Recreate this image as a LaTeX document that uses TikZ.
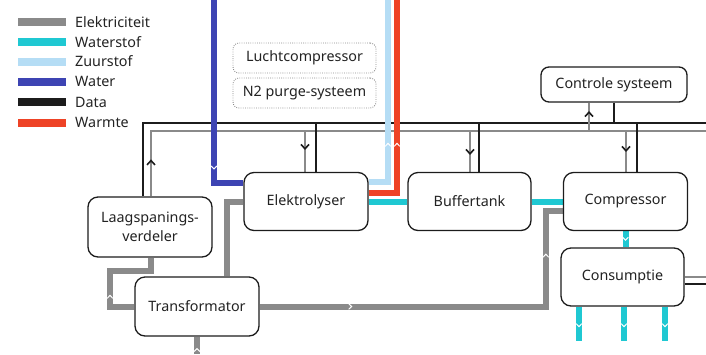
\documentclass[tikz,border=0pt]{standalone}
\usepackage{fontspec}
\setmainfont{Noto Sans}
\usetikzlibrary{arrows.meta,decorations.markings,calc,backgrounds}

\definecolor{elec}{HTML}{8A8A8A}
\definecolor{hydro}{HTML}{1FC8D2}
\definecolor{oxy}{HTML}{B5DDF5}
\definecolor{wat}{HTML}{3D44B3}
\definecolor{datac}{HTML}{1C1C1C}
\definecolor{heat}{HTML}{EE4326}
\definecolor{txt}{HTML}{222222}

\newcommand\boxfont{\fontsize{14.3}{18.5}\selectfont}

\tikzset{
  box/.style={draw=datac, line width=1.3pt, rounded corners=10pt, fill=white,
    inner sep=0pt, minimum width=124pt, minimum height=58pt, text=txt,
    font=\boxfont, align=center},
  dotbox/.style={draw=elec, line width=0.9pt, dash pattern=on 0.8pt off 1.4pt,
    rounded corners=6pt, fill=white, inner sep=0pt, minimum width=143pt,
    minimum height=30pt, text=txt, font=\boxfont},
  legtext/.style={anchor=west, inner sep=0pt, text=txt, font=\boxfont},
  pipe/.style={line width=6pt},
  elecpipe/.style={pipe, draw=elec},
  hydropipe/.style={pipe, draw=hydro},
  oxypipe/.style={pipe, draw=oxy},
  watpipe/.style={pipe, draw=wat},
  heatpipe/.style={pipe, draw=heat},
  dataline/.style={line width=1.6pt, draw=datac},
  lvline/.style={line width=1.6pt, draw=elec},
  % white flow chevron inside a thick pipe
  chev at/.style={postaction={decorate, decoration={markings,
    mark=at position #1 with {\draw[white, line width=1pt]
      (-2pt,2.8pt) -- (1pt,0pt) -- (-2pt,-2.8pt);}}}},
  % black direction mark on a thin line
  arr at/.style={postaction={decorate, decoration={markings,
    mark=at position #1 with {\draw[datac, line width=1.6pt, line join=miter]
      (-3.6pt,4pt) -- (0.8pt,0pt) -- (-3.6pt,-4pt);}}}},
}

\begin{document}
\begin{tikzpicture}[x=1pt, y=-1pt]
\useasboundingbox (0,0) rectangle (706,354);

% legend
\foreach \c/\t/\y in {elec/Elektriciteit/22, hydro/Waterstof/42, oxy/Zuurstof/61.5,
                      wat/Water/81.5, datac/Data/102, heat/Warmte/122.5} {
  \draw[line width=8pt, draw=\c] (18,\y) -- (66,\y);
  \node[legtext] (leg\c) at (75,\y) {\t};
}

% components
\node[dotbox] (lucht) at (304.5,58) {Luchtcompressor};
\node[dotbox] (purge) at (304.5,93) {N2 purge-systeem};
\node[box, minimum width=146pt, minimum height=35pt, rounded corners=8pt] (ctrl) at (614,84.5) {Controle systeem};
\node[box] (elek)  at (306,201.5)   {Elektrolyser};
\node[box, minimum width=123pt] (buff) at (469.5,201.5) {Buffertank};
\node[box] (comp)  at (625.5,201.5) {Compressor};
\node[box, minimum width=123pt] (cons) at (622.5,277) {Consumptie};
\node[box, minimum height=60pt] (laag) at (150,227) {Laagspanings-\\verdeler};
\node[box, minimum height=59pt] (trafo) at (197,306.5) {Transformator};

\begin{scope}[on background layer]
  % data and low-voltage buses
  \coordinate (dataend) at (706,123);
  \coordinate (lvend) at (706,131);
  \draw[dataline] ($(laag.north)+(-7,0)$) |- (dataend);
  \draw[lvline, arr at=35pt] ($(laag.north)+(1,0)$) |- (lvend);

  \draw[lvline, arr at=17pt] ($(elek.north |- lvend)+(-1,0)$) -- ($(elek.north)+(-1,0)$);
  \draw[dataline] ($(elek.north |- dataend)+(10,0)$) -- ($(elek.north)+(10,0)$);

  \draw[lvline, arr at=22pt] ($(buff.north |- lvend)+(0.5,0)$) -- ($(buff.north)+(0.5,0)$);
  \draw[dataline] ($(buff.north |- dataend)+(9.5,0)$) -- ($(buff.north)+(9.5,0)$);

  \draw[lvline, arr at=18pt] ($(ctrl.south |- lvend)+(-25,0)$) -- ($(ctrl.south)+(-25,0)$);
  \draw[dataline] (ctrl.south) -- (ctrl.south |- dataend);

  \draw[lvline, arr at=19pt] ($(comp.north |- lvend)+(0.5,0)$) -- ($(comp.north)+(0.5,0)$);
  \draw[dataline] ($(comp.north |- dataend)+(11.5,0)$) -- ($(comp.north)+(11.5,0)$);

  \coordinate (cdat) at ($(cons.east)+(0,7)$);
  \draw[lvline] (cons.east) -- (cons.east -| lvend);
  \draw[dataline] (cdat) -- (cdat -| dataend);

  % water, oxygen and heat
  \coordinate (wtop) at (214,0);
  \coordinate (otop) at (388,0);
  \coordinate (htop) at (397,0);
  \draw[watpipe, chev at=168pt] (wtop) |- ($(elek.west)+(0,-18.5)$);
  \draw[oxypipe, chev at=57pt] ($(elek.east)+(0,-19.5)$) -| (otop);
  \draw[heatpipe, chev at=77pt] ($(elek.east)+(0,-8.5)$) -| (htop);

  % hydrogen
  \draw[hydropipe] (elek.east) -- (buff.west);
  \draw[hydropipe] (buff.east) -- (comp.west);
  \draw[hydropipe, chev at=0.5] (comp.south) -- (comp.south |- cons.north);
  \foreach \dx [count=\k] in {-43.5,1.5,42.5} {
    \coordinate (out\k) at ($(cons.south)+(\dx,34)$);
    \draw[hydropipe, chev at=19pt] ($(cons.south)+(\dx,0)$) -- (out\k);
  }

  % electricity
  \coordinate (ebot) at (197,354);
  \draw[elecpipe, chev at=4.5pt] (ebot) -- (trafo.south);
  \draw[elecpipe] ($(trafo.north)+(30,0)$) |- (elek.west);
  \draw[elecpipe, chev at=34.5pt] (trafo.west) -| (110,271) -| ($(laag.south)+(1,0)$);
  \draw[elecpipe, chev at=91pt, chev at=337.5pt]
    (trafo.east) -| ($(comp.west)+(-17,9.5)$) -- ($(comp.west)+(0,9.5)$);
\end{scope}
\end{tikzpicture}
\end{document}
